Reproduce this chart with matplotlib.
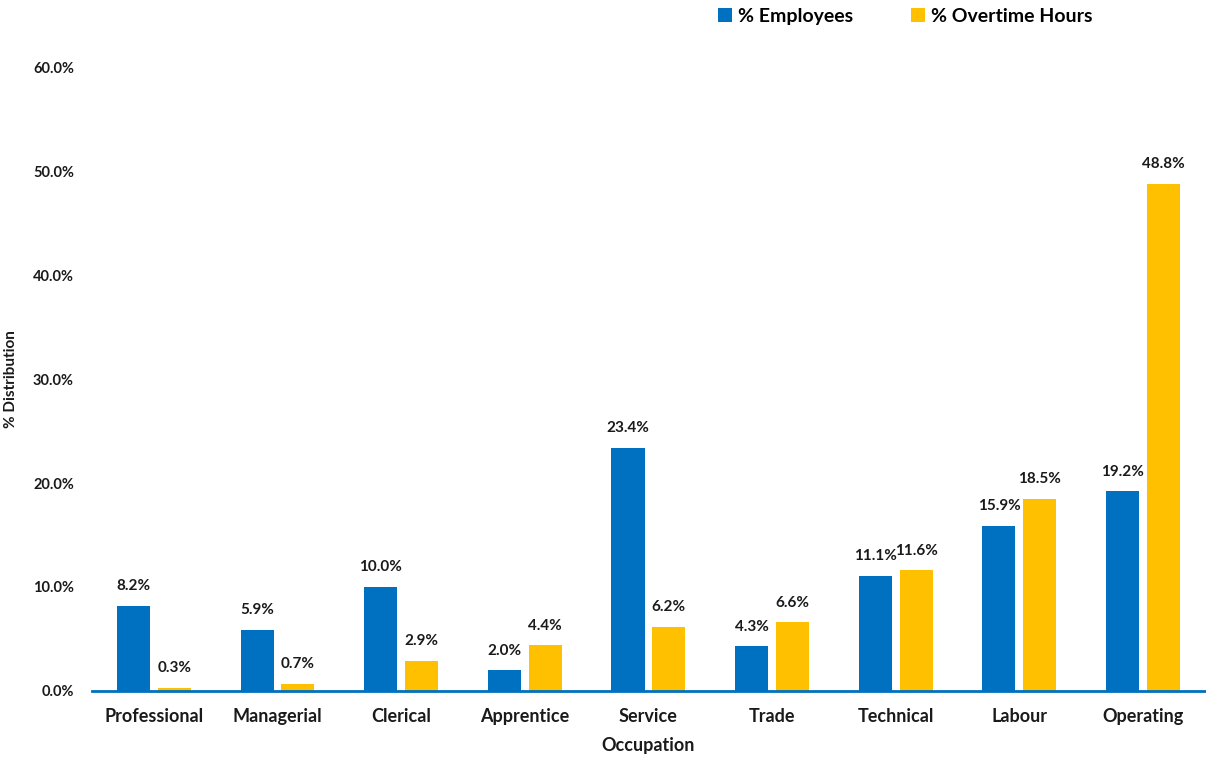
import matplotlib
matplotlib.use("Agg")
import matplotlib.pyplot as plt
import numpy as np

plt.rcParams['font.family'] = ['Lato', 'DejaVu Sans']
plt.rcParams['font.weight'] = 'bold'

occupations = ["Professional", "Managerial", "Clerical", "Apprentice", "Service",
               "Trade", "Technical", "Labour", "Operating"]
pct_employees = [8.2, 5.9, 10.0, 2.0, 23.4, 4.3, 11.1, 15.9, 19.2]
pct_overtime = [0.3, 0.7, 2.9, 4.4, 6.2, 6.6, 11.6, 18.5, 48.8]
y_ticks = [0, 10, 20, 30, 40, 50, 60]

blue = "#0070C0"
gold = "#FFC000"
ink = "#1a1a1a"

fig = plt.figure(figsize=(12.06, 7.6), dpi=100)
ax = fig.add_axes([0.0763, 0.0908, 0.9227, 0.821])

x = np.arange(len(occupations))
w = 0.267
off = 0.165
b1 = ax.bar(x - off, pct_employees, w, color=blue, label="% Employees", zorder=2)
b2 = ax.bar(x + off, pct_overtime, w, color=gold, label="% Overtime Hours", zorder=2)

for bars, vals in ((b1, pct_employees), (b2, pct_overtime)):
    for r, v in zip(bars, vals):
        ax.annotate(f"{v:.1f}%", (r.get_x() + r.get_width() / 2, v),
                    xytext=(0, 9), textcoords="offset points",
                    ha="center", va="bottom", fontsize=11, fontweight="bold",
                    color=ink)

ax.set_xlim(-0.5, len(occupations) - 0.5)
ax.set_ylim(0, 60)
ax.set_yticks(y_ticks)
ax.set_yticklabels([f"{t:.1f}%" for t in y_ticks], fontsize=10.5, fontweight="bold", color=ink)
ax.set_xticks(x)
ax.set_xticklabels(occupations, fontsize=13, fontweight="bold", color=ink)
ax.tick_params(axis="both", length=0)
ax.tick_params(axis="y", pad=13)
ax.tick_params(axis="x", pad=12)

for s in ("top", "right", "left"):
    ax.spines[s].set_visible(False)
ax.spines["bottom"].set_color(blue)
ax.spines["bottom"].set_linewidth(2)
ax.spines["bottom"].set_zorder(3)

ax.set_xlabel("Occupation", fontsize=13, fontweight="bold", color=ink, labelpad=9)
ax.set_ylabel("% Distribution", fontsize=11, fontweight="bold", color=ink)
ax.yaxis.set_label_coords(-0.0665, 0.5)

fig.legend(handles=[b1, b2], loc="upper right", bbox_to_anchor=(0.92, 1.013), ncol=2,
           frameon=False, handlelength=0.7, handleheight=0.7,
           handletextpad=0.3, columnspacing=3.0,
           prop={"weight": "bold", "size": 14})

fig.savefig("out.png", dpi=100)
